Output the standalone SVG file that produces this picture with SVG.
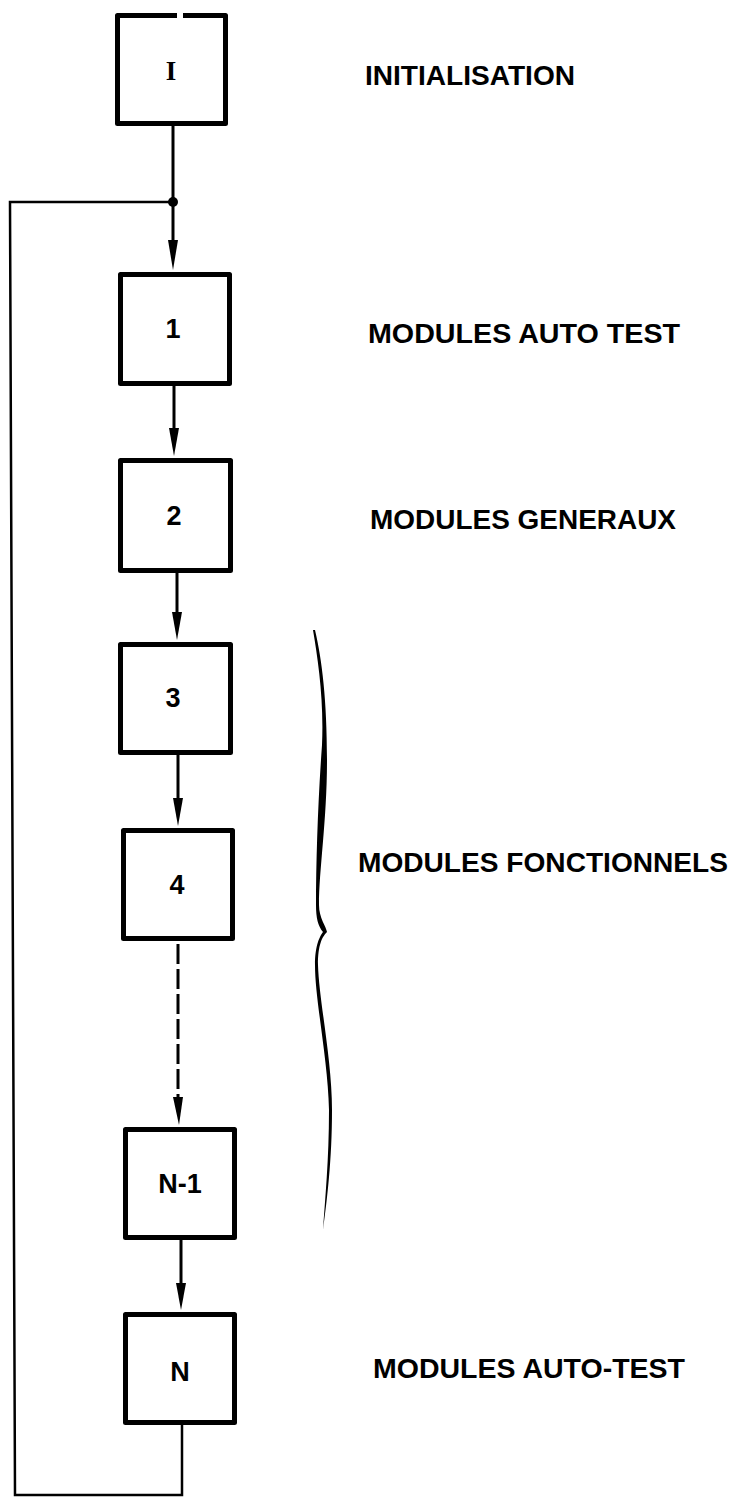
<svg xmlns="http://www.w3.org/2000/svg" width="744" height="1499" viewBox="0 0 744 1499">
<style>
.box{fill:#fff;stroke:#000;stroke-width:5;stroke-linejoin:round}
.num{font-family:"Liberation Sans",Arial,sans-serif;font-weight:bold;font-size:27px;text-anchor:middle;fill:#000}
.lbl{font-family:"Liberation Sans",Arial,sans-serif;font-weight:bold;font-size:27px;fill:#000}
.ln{fill:none;stroke:#000;stroke-width:3}
.loop{fill:none;stroke:#000;stroke-width:2.5}
</style>
<rect width="744" height="1499" fill="#fff"/>
<g id="connectors">
<line class="ln" x1="173" y1="126" x2="173" y2="202"/>
<path class="ln" d="M173,202 L173,243"/>
<polygon points="168,240 178,240 173,270" fill="#000"/>
<line class="ln" x1="174" y1="386" x2="174" y2="430"/>
<polygon points="169,428 179,428 174,456" fill="#000"/>
<line class="ln" x1="177" y1="573" x2="177" y2="614"/>
<polygon points="172,612 182,612 177,640" fill="#000"/>
<line class="ln" x1="178" y1="755" x2="178" y2="800"/>
<polygon points="173,798 183,798 178,826" fill="#000"/>
<line class="ln" x1="178" y1="944" x2="178" y2="1100" stroke-dasharray="20,5"/>
<line class="ln" x1="178" y1="1098" x2="178" y2="1102"/>
<polygon points="173,1097 183,1097 179,1125" fill="#000"/>
<line class="ln" x1="181" y1="1240" x2="181" y2="1285"/>
<polygon points="176,1283 186,1283 181,1310" fill="#000"/>
<path class="loop" d="M182,1425 L182,1495 L15,1495 L10,202 L173,202"/>
<circle cx="173" cy="202" r="5" fill="#000"/>
</g>
<g id="node-I">
<path class="box" d="M177,15.5 L117.5,15.5 L117.5,123.5 L225.5,123.5 L225.5,15.5 L183,15.5"/>
<text x="171" y="80" class="num" style="font-family:'Liberation Serif',serif">I</text>
</g>
<g id="node-1">
<rect class="box" x="120.5" y="274.5" width="109" height="109"/>
<text x="173" y="338" class="num">1</text>
</g>
<g id="node-2">
<rect class="box" x="120.5" y="460.5" width="110" height="110"/>
<text x="174" y="525" class="num">2</text>
</g>
<g id="node-3">
<rect class="box" x="120.5" y="644.5" width="110" height="108"/>
<text x="173" y="707" class="num">3</text>
</g>
<g id="node-4">
<rect class="box" x="123.5" y="830.5" width="109" height="108"/>
<text x="177" y="894" class="num">4</text>
</g>
<g id="node-N-1">
<rect class="box" x="125.5" y="1129.5" width="109" height="108"/>
<text x="180" y="1193" class="num">N-1</text>
</g>
<g id="node-N">
<rect class="box" x="125.5" y="1314.5" width="109" height="108"/>
<text x="180" y="1381" class="num">N</text>
</g>
<g id="brace">
<path fill="#000" d="M315,630 C322,660 327,700 327,760 C327,820 319,870 319,905 C319,918 326,926 327,932 C322,937 318,945 318,965 C319,1000 332,1060 332,1110 C332,1160 327,1200 323,1230 C325,1200 329,1160 329,1110 C328,1060 315,1000 315,965 C315,945 320,936 323,932 C318,926 316,918 316,905 C316,860 318,800 322,745 C324,700 318,660 313,630 Z"/>
</g>
<g id="labels">
<text class="lbl" x="365" y="85" textLength="210" lengthAdjust="spacingAndGlyphs">INITIALISATION</text>
<text class="lbl" x="368" y="343" textLength="312" lengthAdjust="spacingAndGlyphs">MODULES AUTO TEST</text>
<text class="lbl" x="370" y="529" textLength="306" lengthAdjust="spacingAndGlyphs">MODULES GENERAUX</text>
<text class="lbl" x="358" y="872" textLength="370" lengthAdjust="spacingAndGlyphs">MODULES FONCTIONNELS</text>
<text class="lbl" x="373" y="1378" textLength="312" lengthAdjust="spacingAndGlyphs">MODULES AUTO-TEST</text>
</g>
</svg>
